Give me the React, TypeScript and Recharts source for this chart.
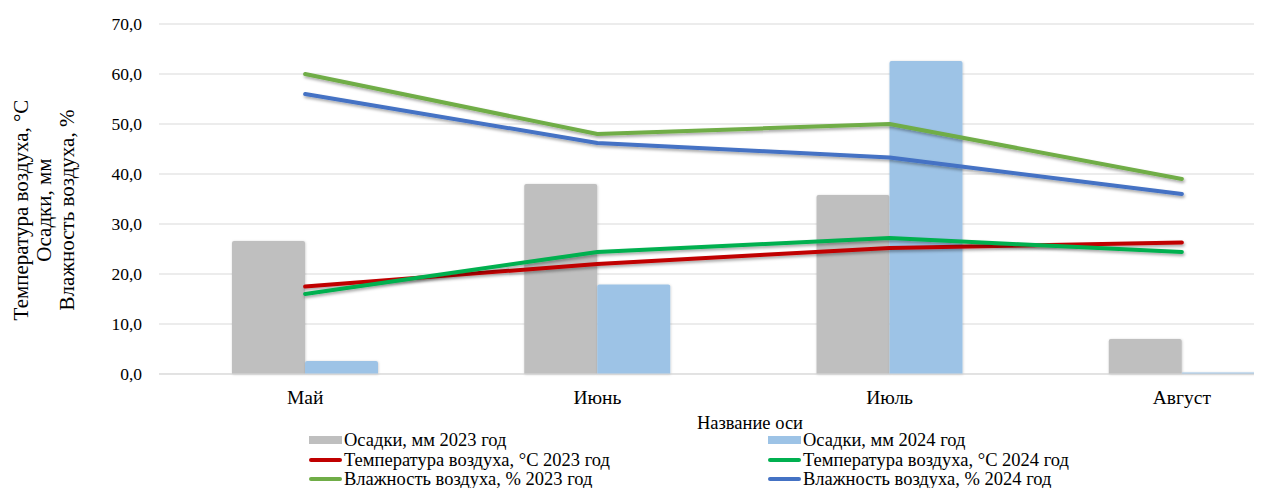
import React from 'react';
import { ComposedChart, Bar, Line, XAxis, YAxis, CartesianGrid } from 'recharts';

const categories = ['Май', 'Июнь', 'Июль', 'Август'];
const precip2023 = [26.6, 38.0, 35.8, 7.0];
const precip2024 = [2.6, 17.9, 62.6, 0.3];
const temp2023 = [17.5, 22.0, 25.2, 26.3];
const temp2024 = [16.0, 24.4, 27.2, 24.4];
const hum2023 = [60.0, 48.0, 50.0, 39.0];
const hum2024 = [56.0, 46.2, 43.3, 36.0];
const yTicks = [0, 10, 20, 30, 40, 50, 60, 70];
const yLabelLines = ['Температура воздуха, °C', 'Осадки, мм', 'Влажность воздуха, %'];
const xAxisTitle = 'Название оси';

const series = [
  { key: 'p23', name: 'Осадки, мм 2023 год', color: '#BFBFBF', type: 'bar' },
  { key: 'p24', name: 'Осадки, мм 2024 год', color: '#9DC3E6', type: 'bar' },
  { key: 't23', name: 'Температура воздуха, °C 2023 год', color: '#C00000', type: 'line' },
  { key: 't24', name: 'Температура воздуха, °C 2024 год', color: '#00B050', type: 'line' },
  { key: 'h23', name: 'Влажность воздуха, % 2023 год', color: '#70AD47', type: 'line' },
  { key: 'h24', name: 'Влажность воздуха, % 2024 год', color: '#4472C4', type: 'line' },
];

const data = categories.map((c, i) => ({
  cat: c,
  p23: precip2023[i],
  p24: precip2024[i],
  t23: temp2023[i],
  t24: temp2024[i],
  h23: hum2023[i],
  h24: hum2024[i],
}));

const FONT = '"Liberation Serif", "Times New Roman", serif';

const YLabel = () => (
  <g>
    {yLabelLines.map((t, i) => {
      const x = 20 + i * 23;
      const y = 202;
      return (
        <text key={i} x={x} y={y} transform={`rotate(-90 ${x} ${y})`} textAnchor="middle"
          fontFamily={FONT} fontSize={21} fill="#000">{t}</text>
      );
    })}
  </g>
);

const XLabel = () => (
  <text x={742} y={421} textAnchor="middle" fontFamily={FONT} fontSize={18.5} fill="#000">{xAxisTitle}</text>
);

const legendCols = [301, 760];
const legendRows = [432, 452, 471];

export default function App() {
  return (
    <div style={{ position: 'relative', width: 1254, height: 480, overflow: 'hidden' }}>
      <svg width={0} height={0} style={{ position: 'absolute' }}>
        <defs>
          <filter id="lineShadow" filterUnits="userSpaceOnUse" x={0} y={0} width={1400} height={500}>
            <feDropShadow dx={1} dy={2} stdDeviation={1.5} floodColor="#000" floodOpacity={0.35} />
          </filter>
          <filter id="barShadow" filterUnits="userSpaceOnUse" x={0} y={0} width={1400} height={500}>
            <feDropShadow dx={0.5} dy={0.5} stdDeviation={1} floodColor="#000" floodOpacity={0.2} />
          </filter>
        </defs>
      </svg>
      <ComposedChart width={1340} height={480} data={data}
        margin={{ top: 16, right: 20, left: 0, bottom: 0 }} barGap={0}>
        <CartesianGrid vertical={false} stroke="#D9D9D9" strokeWidth={1} />
        <XAxis dataKey="cat" height={114} tickSize={0} tickMargin={16} axisLine={{ stroke: '#D9D9D9' }}
          tickLine={false} tick={{ fontSize: 19.5, fill: '#000', fontFamily: FONT }} label={<XLabel />} />
        <YAxis width={151} domain={[0, 70]} ticks={yTicks} tickSize={0} tickMargin={17}
          axisLine={false} tickLine={false}
          tickFormatter={(v: number) => v.toFixed(1).replace('.', ',')}
          tick={{ fontSize: 17.5, fill: '#000', fontFamily: FONT }} label={<YLabel />} />
        {series.filter(s => s.type === 'bar').map(s => (
          <Bar key={s.key} dataKey={s.key} name={s.name} fill={s.color} barSize={73}
            radius={[2, 2, 0, 0]} isAnimationActive={false} filter="url(#barShadow)" />
        ))}
        {series.filter(s => s.type === 'line').map(s => (
          <Line key={s.key} dataKey={s.key} name={s.name} stroke={s.color} strokeWidth={4}
            type="linear" dot={false} activeDot={false} strokeLinecap="round" strokeLinejoin="round"
            isAnimationActive={false} filter="url(#lineShadow)" />
        ))}
      </ComposedChart>
      {series.map((s, i) => {
        const col = i % 2;
        const row = Math.floor(i / 2);
        return (
          <div key={s.key} style={{
            position: 'absolute', left: legendCols[col], top: legendRows[row] - 10, height: 20,
            display: 'flex', alignItems: 'center', fontFamily: FONT, fontSize: 18.5, color: '#000',
            whiteSpace: 'nowrap', lineHeight: '20px',
          }}>
            {s.type === 'bar' ? (
              <span style={{ display: 'inline-block', width: 33, height: 8, background: s.color, marginRight: 2 }} />
            ) : (
              <span style={{ display: 'inline-block', width: 33, height: 4, borderRadius: 2, background: s.color, marginRight: 2 }} />
            )}
            <span>{s.name}</span>
          </div>
        );
      })}
    </div>
  );
}
